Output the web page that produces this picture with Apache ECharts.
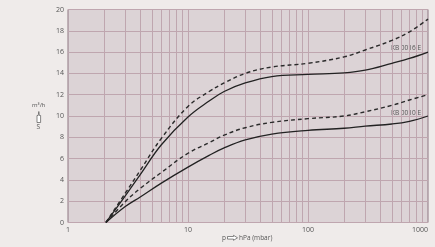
<!DOCTYPE html>
<html>
<head>
<meta charset="utf-8">
<script src="https://cdn.jsdelivr.net/npm/echarts@6/dist/echarts.min.js"></script>
<style>
html,body{margin:0;padding:0;background:#efebea;}
#c{width:435px;height:247px;}
</style>
</head>
<body>
<div id="c"></div>
<script>
// pressures (hPa / mbar)
var pressures = [2.07, 3, 4, 6, 10, 15, 20, 30, 50, 100, 200, 300, 500, 700, 1000];
// KB 0016 E dashed (upper)
var kb16Dashed = [0, 2.75, 4.9, 7.9, 10.9, 12.3, 13.1, 14.0, 14.6, 14.95, 15.55, 16.2, 17.1, 17.9, 19.1];
// KB 0016 E solid
var kb16Solid  = [0, 2.5, 4.5, 7.3, 9.9, 11.4, 12.3, 13.1, 13.7, 13.9, 14.05, 14.3, 14.95, 15.4, 16.0];
// KB 0010 E dashed
var kb10Dashed = [0, 1.95, 3.2, 4.7, 6.5, 7.5, 8.2, 8.9, 9.4, 9.75, 10.0, 10.4, 11.0, 11.5, 12.0];
// KB 0010 E solid
var kb10Solid  = [0, 1.5, 2.4, 3.7, 5.2, 6.3, 7.0, 7.75, 8.3, 8.65, 8.85, 9.05, 9.25, 9.5, 10.0];
// vertical log grid lines
var logGrid = [2,3,4,5,6,7,8,9,10,20,30,40,50,60,70,80,90,100,200,300,400,500,600,700,800,900];
var yTicks = {min: 0, max: 20, interval: 2};
var seriesNames = ['KB 0016 E', 'KB 0010 E'];

function pts(vals){ return pressures.map(function(p,i){ return [p, vals[i]]; }); }

var gridColor = '#bfa6af';
var font = 'Open Sans';
var chart = echarts.init(document.getElementById('c'), null, {renderer:'canvas'});
var lineBase = {type:'line', smooth:0.4, symbol:'none', silent:true, z:5};
chart.setOption({
  animation:false,
  backgroundColor:'#efebea',
  grid:{left:68, right:7, top:9.5, bottom:24.5, show:true, backgroundColor:'#dcd3d6', borderColor:'#8e7682', borderWidth:1},
  xAxis:{type:'log', logBase:10, min:1, max:1000,
    axisLine:{show:false}, axisTick:{show:false}, splitLine:{show:false},
    axisLabel:{color:'#555', fontSize:7, fontFamily:font, margin:4, alignMaxLabel:'right',
      formatter:function(v){ return String(v); }}},
  yAxis:{type:'value', min:yTicks.min, max:yTicks.max, interval:yTicks.interval,
    axisLine:{show:false}, axisTick:{show:false},
    splitLine:{lineStyle:{color:gridColor, width:1}},
    axisLabel:{color:'#555', fontSize:7, fontFamily:font, margin:4}},
  series:[
    {type:'line', data:[], silent:true, markLine:{silent:true, symbol:'none', label:{show:false},
      lineStyle:{color:gridColor, width:1, type:'solid'}, data:logGrid.map(function(v){return {xAxis:v};})}},
    Object.assign({}, lineBase, {name:seriesNames[0]+' dashed', data:pts(kb16Dashed), lineStyle:{color:'#2a2a2a', width:1.4, type:[4,3]}}),
    Object.assign({}, lineBase, {name:seriesNames[0], data:pts(kb16Solid), lineStyle:{color:'#222', width:1.3}}),
    Object.assign({}, lineBase, {name:seriesNames[1]+' dashed', data:pts(kb10Dashed), lineStyle:{color:'#2a2a2a', width:1.4, type:[4,3]}}),
    Object.assign({}, lineBase, {name:seriesNames[1], data:pts(kb10Solid), lineStyle:{color:'#222', width:1.3}})
  ],
  graphic:[
    {type:'text', left:391, top:45, style:{text:seriesNames[0], fill:'#555', font:'6.5px "Open Sans"'}},
    {type:'text', left:391, top:109.5, style:{text:seriesNames[1], fill:'#555', font:'6.5px "Open Sans"'}},
    {type:'text', left:32, top:102, style:{text:'m³/h', fill:'#555', font:'6px "Open Sans"'}},
    {type:'polyline', shape:{points:[[37,122.5],[37,115.5],[38.2,115.5],[38.8,111.5],[39.4,115.5],[40.6,115.5],[40.6,122.5],[37,122.5]]}, style:{stroke:'#555', fill:'#fff', lineWidth:0.7}},
    {type:'text', left:36.5, top:124, style:{text:'S', fill:'#555', font:'6.5px "Open Sans"'}},
    {type:'text', left:222, top:234.5, style:{text:'p', fill:'#555', font:'6.5px "Open Sans"'}},
    {type:'polyline', shape:{points:[[227.5,236.5],[233.5,236.5],[233.5,235.3],[237.5,237.8],[233.5,240.3],[233.5,239.1],[227.5,239.1],[227.5,236.5]]}, style:{stroke:'#555', fill:'#fff', lineWidth:0.7}},
    {type:'text', left:239, top:234.5, style:{text:'hPa (mbar)', fill:'#555', font:'6.5px "Open Sans"'}}
  ]
});
</script>
</body>
</html>
